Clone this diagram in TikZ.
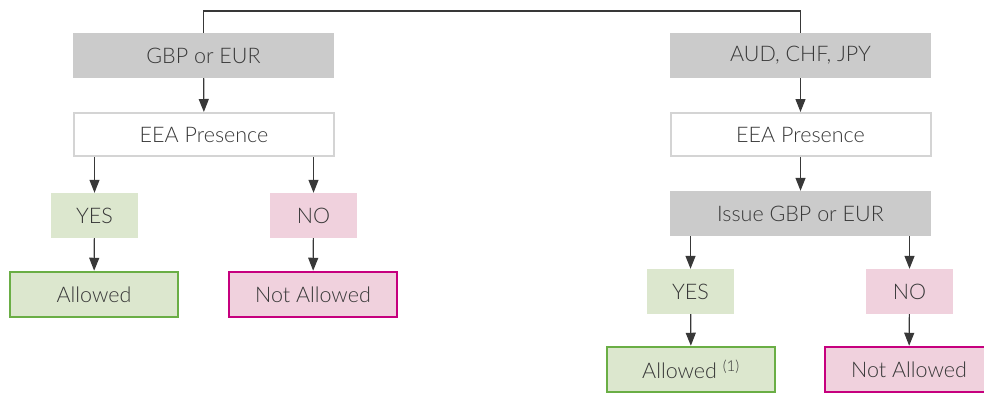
\documentclass[tikz,border=0pt]{standalone}
\usepackage{fontspec}
\setmainfont{Lato}[UprightFont=* Light]
\usepackage{xcolor}
\usetikzlibrary{arrows.meta}

\definecolor{boxgray}{HTML}{CBCBCB}
\definecolor{edgegray}{HTML}{D4D4D4}
\definecolor{yesfill}{HTML}{DCE7CE}
\definecolor{nofill}{HTML}{F0D1DD}
\definecolor{okgreen}{HTML}{6AAE45}
\definecolor{nomagenta}{HTML}{C6007E}
\definecolor{ink}{HTML}{383838}

\begin{document}
\begin{tikzpicture}[x=1pt,y=-1pt,
	every node/.style={text=ink,font=\fontsize{21.5}{24}\selectfont,inner sep=0pt},
	currency/.style={fill=boxgray,minimum width=261pt,minimum height=45pt},
	presence/.style={fill=white,draw=edgegray,line width=2pt,minimum width=260pt,minimum height=43pt},
	yesbox/.style={fill=yesfill,minimum width=87pt,minimum height=45pt},
	nobox/.style={fill=nofill,minimum width=87pt,minimum height=45pt},
	okbox/.style={fill=yesfill,draw=okgreen,line width=2.5pt,minimum width=168pt,minimum height=45pt},
	nokbox/.style={fill=nofill,draw=nomagenta,line width=2.5pt,minimum width=168pt,minimum height=45pt},
	link/.style={draw=ink,line width=1.2pt,-{Triangle[width=10pt,length=13pt]}}
]
\useasboundingbox (0,0) rectangle (984,392);
\clip (0,0) rectangle (984,392);
%
\node[currency] (gbp) at (203.5,55.5) {GBP or EUR};
\node[presence] (eeaL) at (204,134.5) {EEA Presence};
\node[yesbox] (yesL) at (94.5,215.5) {YES};
\node[nobox] (noL) at (313.5,215.5) {NO};
\node[okbox] (allowL) at (94,294.5) {Allowed};
\node[nokbox] (notL) at (313,294.5) {Not Allowed};
%
\node[currency] (aud) at (800.5,55.5) {AUD, CHF, JPY};
\node[presence] (eeaR) at (800.5,134.5) {EEA Presence};
\node[currency] (issue) at (800.5,213.5) {Issue GBP or EUR};
\node[yesbox] (yesR) at (690.5,291.5) {YES};
\node[nobox] (noR) at (909.5,291.5) {NO};
\node[okbox] (allowR) at (691,369.5) {Allowed \textsuperscript{(1)}};
\node[nokbox] (notR) at (909,369.5) {Not Allowed};
%
\coordinate (split) at (500,11);
\draw[draw=ink,line width=1.2pt] (gbp.north) |- (split) -| (aud.north);
%
\draw[link] (gbp) -- (eeaL);
\draw[link] (eeaL.south -| yesL) -- (yesL);
\draw[link] (eeaL.south -| noL) -- (noL);
\draw[link] (yesL) -- (allowL);
\draw[link] (noL) -- (notL);
%
\draw[link] (aud) -- (eeaR);
\draw[link] (eeaR) -- (issue);
\draw[link] (issue.south -| yesR) -- (yesR);
\draw[link] (issue.south -| noR) -- (noR);
\draw[link] (yesR) -- (allowR);
\draw[link] (noR) -- (notR);
\end{tikzpicture}
\end{document}
